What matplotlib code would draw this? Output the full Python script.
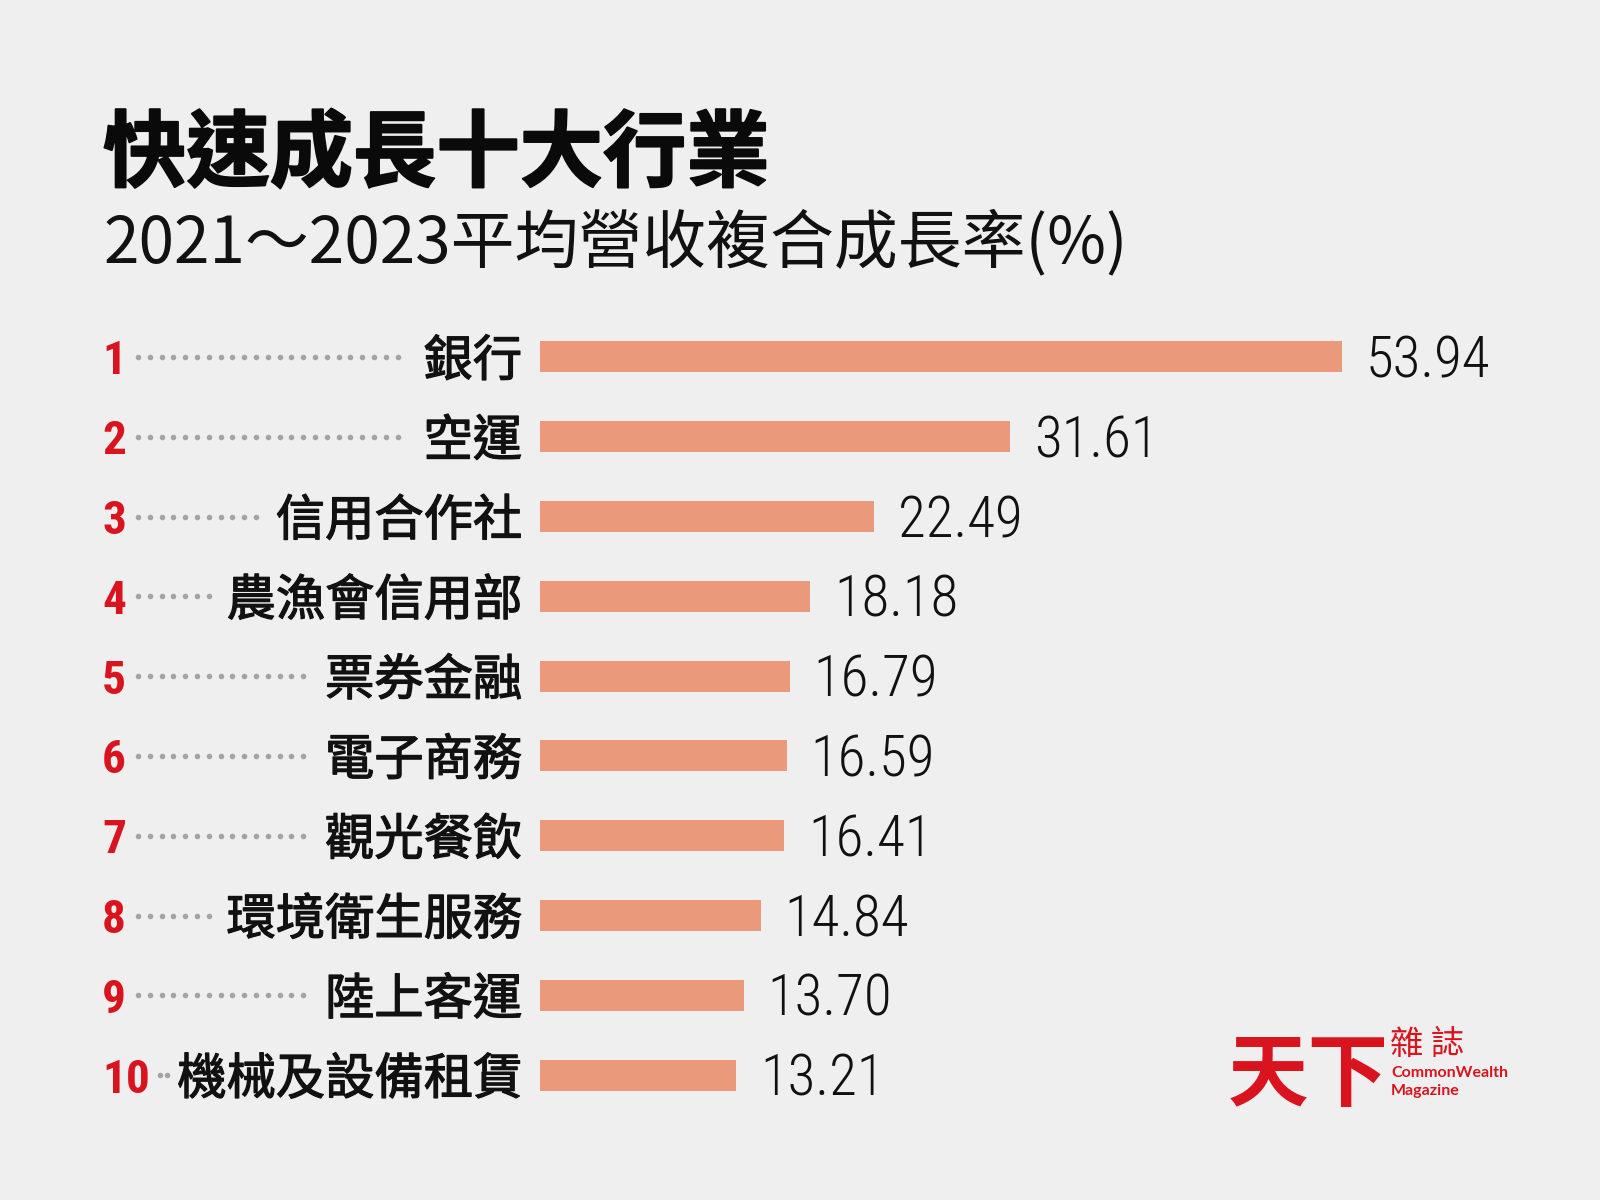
import matplotlib
matplotlib.use('Agg')
import matplotlib.pyplot as plt
import matplotlib.transforms as mtransforms
import matplotlib.patheffects as pe
import numpy as np

# ---- data ----
categories = ['銀行', '空運', '信用合作社', '農漁會信用部', '票券金融',
              '電子商務', '觀光餐飲', '環境衛生服務', '陸上客運', '機械及設備租賃']
values = [53.94, 31.61, 22.49, 18.18, 16.79, 16.59, 16.41, 14.84, 13.70, 13.21]
ranks = ['1', '2', '3', '4', '5', '6', '7', '8', '9', '10']
title = '快速成長十大行業'
subtitle = '2021～2023平均營收複合成長率(%)'

# ---- style ----
BG = '#efefef'
BAR = '#ea9a7b'
RED = '#d9141e'
DOT = '#a4a4a4'
INK = '#111111'
CJK = ['Noto Sans CJK TC', 'DejaVu Sans']
NUM = ['Roboto Condensed', 'Roboto', 'DejaVu Sans']

W, H = 1600, 1200
fig = plt.figure(figsize=(16, 12), dpi=100, facecolor=BG)

def fx(px):
    return px / W

def fy(py):
    return 1 - py / H

px_per_unit = 14.87
ax_left, ax_right = 540, 1500
ax_top, ax_bot = 317, 1115
ax = fig.add_axes([fx(ax_left), fy(ax_bot), (ax_right - ax_left) / W, (ax_bot - ax_top) / H])
ax.set_facecolor(BG)
ax.axis('off')
ypos = np.arange(len(categories))
ax.barh(ypos, values, height=0.39, color=BAR, zorder=2)
ax.set_xlim(0, (ax_right - ax_left) / px_per_unit)
ax.set_ylim(len(categories) - 0.5, -0.5)

blend = mtransforms.blended_transform_factory(fig.transFigure, ax.transData)
t_label = mtransforms.offset_copy(blend, fig=fig, x=0, y=-19, units='dots')
t_rank = mtransforms.offset_copy(blend, fig=fig, x=0, y=-17.5, units='dots')

label_fx = [pe.withStroke(linewidth=0.9, foreground=INK)]
label_texts = []
rank_texts = []
for i, (cat, r, v) in enumerate(zip(categories, ranks, values)):
    lt = ax.text(fx(522), i, cat, transform=t_label, ha='right', va='baseline',
                 fontsize=35.5, family=CJK, weight='regular', color=INK,
                 path_effects=label_fx)
    label_texts.append(lt)
    rt = ax.text(fx(102), i, r, transform=t_rank, ha='left', va='baseline',
                 fontsize=34, family=NUM, weight='bold', color=RED)
    rank_texts.append(rt)
    ax.annotate(f'{v:.2f}', xy=(v, i), xytext=(24, -20.5), textcoords='offset pixels',
                ha='left', va='baseline', fontsize=41, family=NUM, weight='light',
                color=INK)

fig.text(fx(103), fy(180), title, fontsize=60, family=CJK, weight='bold',
         ha='left', va='baseline', color='#0a0a0a',
         path_effects=[pe.withStroke(linewidth=1.4, foreground='#0a0a0a')])
fig.text(fx(103), fy(262), subtitle, fontsize=46, family=CJK, weight='regular',
         ha='left', va='baseline', color=INK)

# dotted leaders
fig.canvas.draw()
renderer = fig.canvas.get_renderer()
dot_start, dot_step = 138, 11.8
for i in range(len(categories)):
    lb = label_texts[i].get_window_extent(renderer)
    rb = rank_texts[i].get_window_extent(renderer)
    lab_left = lb.x0
    rank_right = rb.x1
    end = lab_left - 17
    start = max(dot_start, rank_right + 10)
    xs = np.arange(start, end + 0.1, dot_step)
    if len(xs) < 2:
        mid = (rank_right + lab_left) / 2
        xs = np.array([mid - 3.5, mid + 3.5])
    ax.plot(xs / W, np.full(len(xs), i), 'o', ms=4.0, color=DOT, mew=0,
            transform=blend, zorder=3, clip_on=False)

# logo
fig.text(fx(1228), fy(1100), '天下', fontsize=58, family=CJK, weight='bold',
         ha='left', va='baseline', color=RED)
fig.text(fx(1390), fy(1054), '雜 誌', fontsize=24, family=CJK, weight='regular',
         ha='left', va='baseline', color=RED)
fig.text(fx(1391), fy(1077), 'CommonWealth', fontsize=11.5, family=['Lato', 'DejaVu Sans'],
         weight='bold', ha='left', va='baseline', color=RED)
fig.text(fx(1391), fy(1095), 'Magazine', fontsize=11.5, family=['Lato', 'DejaVu Sans'],
         weight='bold', ha='left', va='baseline', color=RED)

fig.savefig('out.png', dpi=100, facecolor=BG)
